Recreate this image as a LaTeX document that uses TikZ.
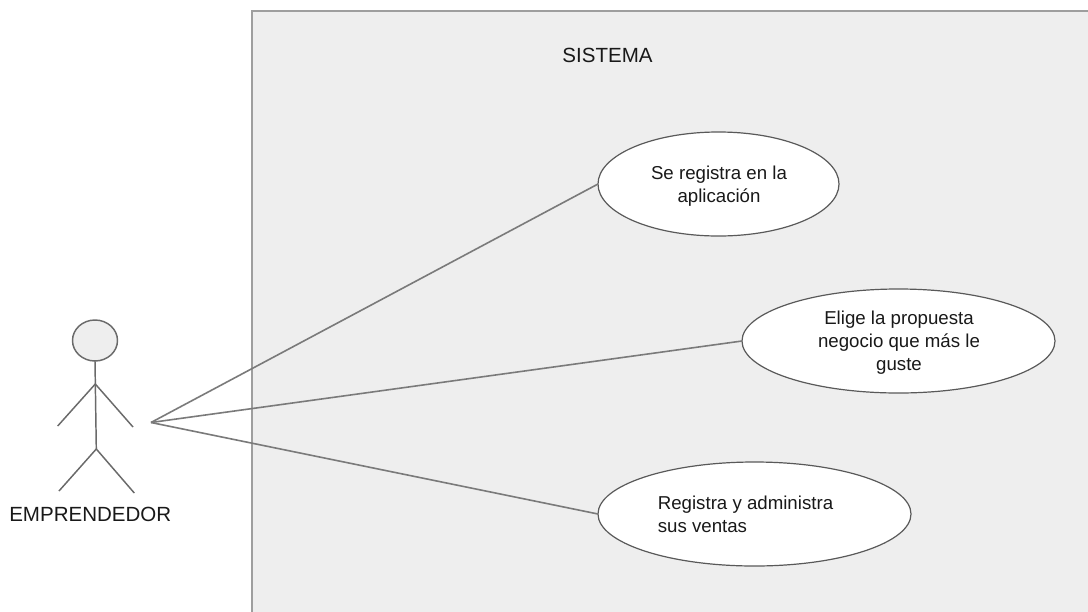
\documentclass[tikz,border=0pt]{standalone}
\usepackage{fontspec}
\setmainfont{Liberation Sans}
\usetikzlibrary{shapes.geometric}
\definecolor{sysfill}{HTML}{EEEEEE}
\definecolor{sysline}{HTML}{9E9E9E}
\definecolor{inkline}{HTML}{595959}
\definecolor{conn}{HTML}{7A7A7A}
\tikzset{x=0.75pt,y=-0.75pt,
 usecase/.style={ellipse,draw=inkline,fill=white,line width=0.9pt,inner sep=0pt,outer sep=0pt},
 lbl/.style={font=\fontsize{14pt}{17.25pt}\selectfont,text=black!90,inner sep=0pt},
 biglbl/.style={font=\fontsize{15.4pt}{18pt}\selectfont,text=black!90,inner sep=0pt},
 limb/.style={draw=inkline!90,line width=1.1pt},
 connector/.style={draw=conn,line width=1.2pt}}
\begin{document}
\begin{tikzpicture}
\useasboundingbox (0,0) rectangle (1088,611);
\fill[white] (0,0) rectangle (1088,611);
\begin{scope}
\clip (0,0) rectangle (1088,611);
\path[fill=sysfill,draw=sysline,line width=1.5pt] (251.5,613) -- (251.5,11) -- (1090,11) -- (1090,613);
\end{scope}
\node[biglbl] (sistema) at (607.5,55) {SISTEMA};
\coordinate (actorhand) at (151,422.5);
\node[usecase,minimum width=180.75pt,minimum height=78pt] (uc1) at (718.5,184) {};
\node[usecase,minimum width=234.75pt,minimum height=78pt] (uc2) at (898.5,341) {};
\node[usecase,minimum width=234.75pt,minimum height=78pt] (uc3) at (754.5,514) {};
\node[lbl,align=center] (t1) at (719,186) {Se registra en la\\aplicación};
\node[lbl,align=center] (t2) at (899,343) {Elige la propuesta\\negocio que más le\\guste};
\node[lbl,align=left] (t3) at (745.5,514) {Registra y administra\\sus ventas};
\draw[connector] (actorhand) -- (uc1.west);
\draw[connector] (actorhand) -- (uc2.west);
\draw[connector] (actorhand) -- (uc3.west);
\node[ellipse,draw=inkline!90,fill=sysfill,line width=1.1pt,inner sep=0pt,outer sep=0pt,minimum width=33.75pt,minimum height=30.75pt] (head) at (95,340.5) {};
\coordinate (shoulder) at (95.3,384);
\coordinate (hip) at (96.3,449);
\coordinate (handl) at (57.7,426);
\coordinate (handr) at (133,427);
\coordinate (footl) at (59,491);
\coordinate (footr) at (134.3,493);
\draw[limb] (head.south) -- (hip);
\draw[limb] (handl) -- (shoulder) -- (handr);
\draw[limb] (footl) -- (hip) -- (footr);
\node[biglbl] (actor) at (90.3,514) {EMPRENDEDOR};
\end{tikzpicture}
\end{document}
